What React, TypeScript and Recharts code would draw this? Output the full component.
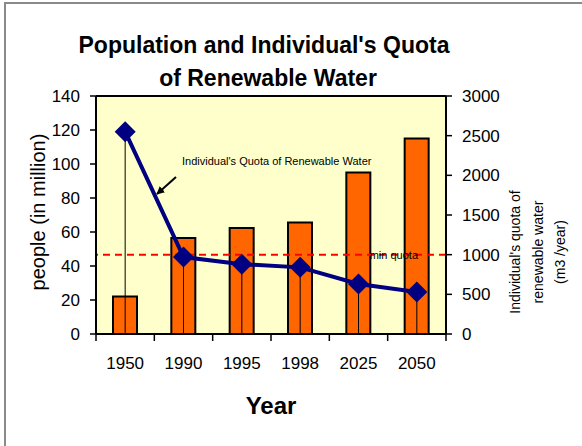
import { Bar, CartesianGrid, ComposedChart, Line, ReferenceLine, XAxis, YAxis } from 'recharts';

const years = ['1950', '1990', '1995', '1998', '2025', '2050'];
const population = [22, 56.5, 62.4, 65.6, 95, 115];
const quota = [2550, 970, 880, 840, 630, 530];
const leftTicks = [0, 20, 40, 60, 80, 100, 120, 140];
const rightTicks = [0, 500, 1000, 1500, 2000, 2500, 3000];
const minQuota = 1000;

const data = years.map((year, i) => ({ year, population: population[i], quota: quota[i] }));

const W = 582;
const H = 446;
const LEFT_W = 96;
const RIGHT_W = 136;
const TOP = 96;
const X_H = 112;
const PLOT_BOTTOM = H - X_H;
const BAND = (W - LEFT_W - RIGHT_W) / years.length;
const FONT = '"Liberation Sans", Arial, sans-serif';

// ticks sit between categories, labels in the middle (Excel style)
function YearTick(props: any) {
  const { x, payload, index } = props;
  const y = PLOT_BOTTOM;
  return (
    <g>
      <line x1={x - BAND / 2} y1={y} x2={x - BAND / 2} y2={y + 7} stroke="#000" strokeWidth={1.5} />
      {index === years.length - 1 && (
        <line x1={x + BAND / 2} y1={y} x2={x + BAND / 2} y2={y + 7} stroke="#000" strokeWidth={1.5} />
      )}
      <text x={x} y={y + 35} textAnchor="middle" fontSize={17} fontFamily={FONT} fill="#000">
        {payload.value}
      </text>
    </g>
  );
}

// diamond marker with a thin drop line down to the category axis
function Diamond(props: any) {
  const { cx, cy } = props;
  if (cx == null || cy == null) return null;
  const r = 10.5;
  return (
    <g>
      <line x1={cx} y1={cy} x2={cx} y2={PLOT_BOTTOM} stroke="#000" strokeWidth={1} />
      <polygon points={`${cx},${cy - r} ${cx + r},${cy} ${cx},${cy + r} ${cx - r},${cy}`} fill="#000080" />
    </g>
  );
}

const tickStyle = { fontSize: 17, fontFamily: FONT, fill: '#000' };

export default function App() {
  return (
    <div style={{ position: 'absolute', left: 0, top: 0, width: W, height: H, overflow: 'hidden', background: '#fff' }}>
      <div style={{ position: 'absolute', left: 4, top: 2, width: 640, height: 520, border: '2px solid #8a8a8a' }} />
      <div style={{ position: 'absolute', left: 0, top: 0 }}>
        <ComposedChart width={W} height={H} data={data} margin={{ top: TOP, right: 0, bottom: 0, left: 0 }}>
          <CartesianGrid xAxisId="main" yAxisId="left" fill="#FFFFCC" horizontal={false} vertical={false} />
          <XAxis
            xAxisId="main"
            dataKey="year"
            height={X_H}
            tickSize={0}
            tickMargin={0}
            interval={0}
            tick={<YearTick />}
            axisLine={{ stroke: '#000', strokeWidth: 2 }}
          />
          <YAxis
            yAxisId="left"
            orientation="left"
            width={LEFT_W}
            domain={[0, 140]}
            ticks={leftTicks}
            tick={tickStyle}
            tickSize={6}
            tickMargin={10}
            axisLine={{ stroke: '#000', strokeWidth: 2 }}
            tickLine={{ stroke: '#000', strokeWidth: 1.5 }}
          />
          <YAxis
            yAxisId="right"
            orientation="right"
            width={RIGHT_W}
            domain={[0, 3000]}
            ticks={rightTicks}
            tick={{ ...tickStyle, textAnchor: 'start' }}
            tickSize={6}
            tickMargin={10}
            axisLine={{ stroke: '#000', strokeWidth: 2 }}
            tickLine={{ stroke: '#000', strokeWidth: 1.5 }}
          />
          <ReferenceLine xAxisId="main" yAxisId="left" y={140} stroke="#000" strokeWidth={2} />
          <Bar
            xAxisId="main"
            yAxisId="left"
            dataKey="population"
            barSize={24}
            fill="#FF6600"
            stroke="#000"
            strokeWidth={2}
            isAnimationActive={false}
          />
          <ReferenceLine
            xAxisId="main"
            yAxisId="right"
            y={minQuota}
            stroke="#FF0000"
            strokeWidth={2}
            strokeDasharray="7 5"
            label={{ value: 'min quota', position: 'insideRight', offset: 28, fontSize: 11, fontFamily: FONT, fill: '#000' }}
          />
          <Line
            xAxisId="main"
            yAxisId="right"
            dataKey="quota"
            stroke="#000080"
            strokeWidth={4}
            dot={<Diamond />}
            activeDot={false}
            isAnimationActive={false}
          />
        </ComposedChart>
      </div>
      <svg width={W} height={H} style={{ position: 'absolute', left: 0, top: 0, pointerEvents: 'none' }}>
        <defs>
          <marker id="arrow" viewBox="0 0 10 10" refX="9" refY="5" markerWidth="4" markerHeight="4" orient="auto">
            <path d="M0,0 L10,5 L0,10 z" fill="#000" />
          </marker>
        </defs>
        <text x={264} y={53} textAnchor="middle" fontSize={23} fontWeight="bold" fontFamily={FONT}>
          Population and Individual's Quota
        </text>
        <text x={268} y={86} textAnchor="middle" fontSize={23} fontWeight="bold" fontFamily={FONT}>
          of Renewable Water
        </text>
        <text
          x={38}
          y={212}
          transform="rotate(-90 38 212)"
          textAnchor="middle"
          dominantBaseline="central"
          fontSize={20}
          fontFamily={FONT}
        >
          people (in million)
        </text>
        {["Individual's quota of", 'renewable water', '(m3 /year)'].map((t, i) => (
          <text
            key={t}
            x={515 + i * 22.5}
            y={252}
            transform={`rotate(-90 ${515 + i * 22.5} 252)`}
            textAnchor="middle"
            dominantBaseline="central"
            fontSize={14}
            fontFamily={FONT}
          >
            {t}
          </text>
        ))}
        <text x={271} y={414} textAnchor="middle" fontSize={24} fontWeight="bold" fontFamily={FONT}>
          Year
        </text>
        <text x={182} y={165} fontSize={11} fontFamily={FONT}>
          Individual's Quota of Renewable Water
        </text>
        <line x1={176} y1={177} x2={157} y2={194} stroke="#000" strokeWidth={2} markerEnd="url(#arrow)" />
      </svg>
    </div>
  );
}
